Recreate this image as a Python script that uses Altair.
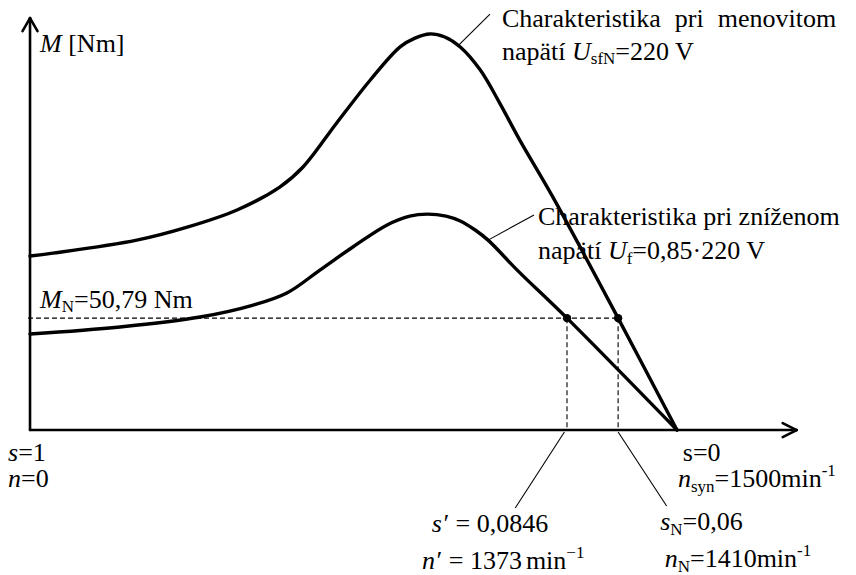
import altair as alt
import pandas as pd

# ---------------------------------------------------------------------------
# Torque-speed characteristics of an induction motor (schematic diagram)
# Abscissa "pos" is schematic: 0 at s=1 (n=0), 100 at s=0 (n_syn).
# Ordinate is torque M in Nm.
# ---------------------------------------------------------------------------

# characteristic at rated voltage U_sfN = 220 V
UPPER_POS = [0, 3.55, 16.5, 24.3, 32.0, 38.6, 42.2, 47.4, 52.6, 57.2, 59.5,
             61.8, 64.1, 66.5, 69.6, 72.6, 75.7, 80.8, 90.9, 100]
UPPER_M = [79.0, 80.3, 86.2, 92.1, 99.9, 110.3, 119.4, 139.4, 158.9, 173.9,
           177.9, 179.8, 178.4, 173.9, 163.4, 148.4, 131.6, 105.8, 50.79, 0]

# characteristic at reduced voltage U_f = 0.85 * 220 V
LOWER_POS = [0, 13.9, 26.3, 34.5, 39.7, 44.8, 49.9, 55.2, 58.7, 61.4, 64.3,
             66.5, 68.8, 70.8, 75.3, 83.0, 100]
LOWER_M = [43.6, 46.8, 51.3, 56.7, 62.2, 72.6, 83.1, 93.1, 97.1, 98.0, 97.1,
           94.9, 90.8, 86.2, 72.6, 50.79, 0]

M_N = 50.79          # rated torque [Nm]
POS_S_PRIME = 83.0   # operating point s' = 0.0846 (reduced voltage)
POS_S_N = 90.9       # operating point s_N = 0.06 (rated voltage)
POS_SYN = 100.0      # s = 0

# axis extents (schematic)
AXIS_X_END = 118.5
AXIS_Y_END = 187.0

# ---------------------------------------------------------------------------
W, H = 856, 575
X_DOMAIN = [-4.64, 127.67]
Y_DOMAIN = [-65.8, 195.2]
PX_X = W / (X_DOMAIN[1] - X_DOMAIN[0])   # pixels per abscissa unit
PX_Y = H / (Y_DOMAIN[1] - Y_DOMAIN[0])   # pixels per Nm

FONT = "Liberation Serif"
FS = 26
FS_SMALL = 17
SUB_SHIFT = 4.5
SUP_SHIFT = 11.5

xs = alt.Scale(domain=X_DOMAIN, nice=False, zero=False)
ys = alt.Scale(domain=Y_DOMAIN, nice=False, zero=False)


def X(f):
    return alt.X(f, type="quantitative", scale=xs, axis=None)


def Y(f):
    return alt.Y(f, type="quantitative", scale=ys, axis=None)


# --- curves ----------------------------------------------------------------
curves = pd.DataFrame(
    [{"curve": "U_sfN", "i": i, "pos": p, "M": m}
     for i, (p, m) in enumerate(zip(UPPER_POS, UPPER_M))]
    + [{"curve": "U_f", "i": i, "pos": p, "M": m}
       for i, (p, m) in enumerate(zip(LOWER_POS, LOWER_M))]
)

curve_layer = alt.Chart(curves).mark_line(
    interpolate="catmull-rom", color="black", strokeWidth=3.4,
    strokeCap="round", strokeJoin="round"
).encode(x=X("pos"), y=Y("M"), detail="curve:N", order="i:Q")

# --- axes with arrowheads ---------------------------------------------------
ARROW_LEN_X = 14 / PX_X
ARROW_HALF_Y = 7 / PX_Y
ARROW_LEN_Y = 13 / PX_Y
ARROW_HALF_X = 7.5 / PX_X

axes = pd.DataFrame([
    {"x": 0, "y": 0, "x2": AXIS_X_END, "y2": 0},
    {"x": 0, "y": 0, "x2": 0, "y2": AXIS_Y_END},
    # arrowhead on abscissa
    {"x": AXIS_X_END - ARROW_LEN_X, "y": ARROW_HALF_Y, "x2": AXIS_X_END, "y2": 0},
    {"x": AXIS_X_END - ARROW_LEN_X, "y": -ARROW_HALF_Y, "x2": AXIS_X_END, "y2": 0},
    # arrowhead on ordinate
    {"x": -ARROW_HALF_X, "y": AXIS_Y_END - ARROW_LEN_Y, "x2": 0, "y2": AXIS_Y_END},
    {"x": ARROW_HALF_X, "y": AXIS_Y_END - ARROW_LEN_Y, "x2": 0, "y2": AXIS_Y_END},
])
axes_layer = alt.Chart(axes).mark_rule(
    color="black", strokeWidth=2.6, strokeCap="round"
).encode(x=X("x"), y=Y("y"), x2="x2:Q", y2="y2:Q")

# --- rated torque guide lines -------------------------------------------------
guides = pd.DataFrame([
    {"x": -2 / PX_X, "y": M_N, "x2": POS_S_N, "y2": M_N},
    {"x": POS_S_PRIME, "y": M_N, "x2": POS_S_PRIME, "y2": 0},
    {"x": POS_S_N, "y": M_N, "x2": POS_S_N, "y2": 0},
])
guide_layer = alt.Chart(guides).mark_rule(
    color="black", strokeWidth=1.1, strokeDash=[5, 3]
).encode(x=X("x"), y=Y("y"), x2="x2:Q", y2="y2:Q")

points = pd.DataFrame({"pos": [POS_S_PRIME, POS_S_N], "M": [M_N, M_N]})
point_layer = alt.Chart(points).mark_circle(
    color="black", opacity=1, size=70
).encode(x=X("pos"), y=Y("M"))

# --- leader lines to the annotations ---------------------------------------
leaders = pd.DataFrame([
    {"x": 66.3, "y": 174.8, "x2": 71.1, "y2": 188.8},
    {"x": 70.8, "y": 86.2, "x2": 77.9, "y2": 97.6},
    {"x": 82.6, "y": -0.9, "x2": 75.0, "y2": -35.4},
    {"x": 90.9, "y": -0.9, "x2": 98.4, "y2": -34.5},
])
leader_layer = alt.Chart(leaders).mark_rule(
    color="black", strokeWidth=1.1
).encode(x=X("x"), y=Y("y"), x2="x2:Q", y2="y2:Q")

# --- text annotations with sub/superscripts ---------------------------------
# Advance widths (1/1000 em) of the serif face
REG_W = {" ": 250, ",": 250, "-": 333, ".": 250, "=": 564, "[": 333, "]": 333,
         "C": 667, "M": 889, "N": 722, "U": 722, "V": 722, "a": 444, "e": 444,
         "f": 333, "h": 500, "i": 278, "k": 500, "m": 778, "n": 500, "o": 500,
         "p": 500, "r": 333, "s": 389, "t": 278, "v": 500, "y": 500, "z": 444,
         "ä": 444, "í": 278, "ž": 444, "·": 250, "′": 275, "−": 564}
for d in "0123456789":
    REG_W[d] = 500
ITA_W = {"M": 833, "U": 722, "n": 500, "s": 389, "′": 275}


def text_width(txt, italic, size):
    tab = ITA_W if italic else REG_W
    return sum(tab.get(c, REG_W.get(c, 500)) for c in txt) * size / 1000.0


# (start pos, baseline M, segments); segment kinds:
#   r regular, i italic, sub subscript, sup superscript, sp extra gap in px
LABELS = [
    (1.55, 171.6, [("M", "i"), (" [Nm]", "r")]),
    (72.95, 182.9, [("Charakteristika", "r"), (14, "sp"), ("pri", "r"),
                    (14, "sp"), ("menovitom", "r")]),
    (72.95, 168.0, [("napätí ", "r"), ("U", "i"), ("sfN", "sub"),
                    ("=220 V", "r")]),
    (78.5, 93.1, [("Charakteristika pri zníženom", "r")]),
    (78.5, 77.6, [("napätí ", "r"), ("U", "i"), ("f", "sub"),
                  ("=0,85·220 V", "r")]),
    (1.55, 55.4, [("M", "i"), ("N", "sub"), ("=50,79 Nm", "r")]),
    (-3.4, -14.1, [("s", "i"), ("=1", "r")]),
    (-3.4, -25.9, [("n", "i"), ("=0", "r")]),
    (100.9, -14.1, [("s=0", "r")]),
    (100.15, -25.9, [("n", "i"), ("syn", "sub"), ("=1500min", "r"),
                     ("-1", "sup")]),
    (62.1, -46.3, [("s′", "i"), (" = 0,0846", "r")]),
    (60.6, -63.1, [("n′", "i"), (" = 1373", "r"), (4, "sp"), ("min", "r"),
                   ("−1", "sup")]),
    (97.4, -45.4, [("s", "i"), ("N", "sub"), ("=0,06", "r")]),
    (98.1, -62.2, [("n", "i"), ("N", "sub"), ("=1410min", "r"),
                   ("-1", "sup")]),
]

rows = []
for x0, y0, segs in LABELS:
    cursor = 0.0
    for txt, kind in segs:
        if kind == "sp":
            cursor += txt
            continue
        italic = kind == "i"
        size = FS_SMALL if kind in ("sub", "sup") else FS
        shift = {"sub": -SUB_SHIFT, "sup": SUP_SHIFT}.get(kind, 0.0)
        lead = len(txt) - len(txt.lstrip(" "))
        cursor += text_width(" " * lead, False, size)
        body = txt.strip(" ")
        rows.append({"x": x0 + cursor / PX_X, "y": y0 + shift / PX_Y,
                     "text": body, "size": size, "italic": italic})
        cursor += text_width(body, italic, size)
        cursor += text_width(" " * (len(txt) - lead - len(body)), False, size)

labels = pd.DataFrame(rows)


def text_layer(df, style):
    return alt.Chart(df).mark_text(
        align="left", baseline="alphabetic", font=FONT, fontStyle=style,
        color="black"
    ).encode(x=X("x"), y=Y("y"), text="text:N",
             size=alt.Size("size:Q", scale=None))


reg_layer = text_layer(labels[~labels["italic"]], "normal")
ita_layer = text_layer(labels[labels["italic"]], "italic")

chart = alt.layer(
    guide_layer, leader_layer, axes_layer, curve_layer, point_layer,
    reg_layer, ita_layer
).properties(
    width=W, height=H, padding=0,
    autosize=alt.AutoSizeParams(type="none"), background="white"
).configure_view(stroke=None)

chart.save("out.html", embed_options={"renderer": "svg", "actions": False})
